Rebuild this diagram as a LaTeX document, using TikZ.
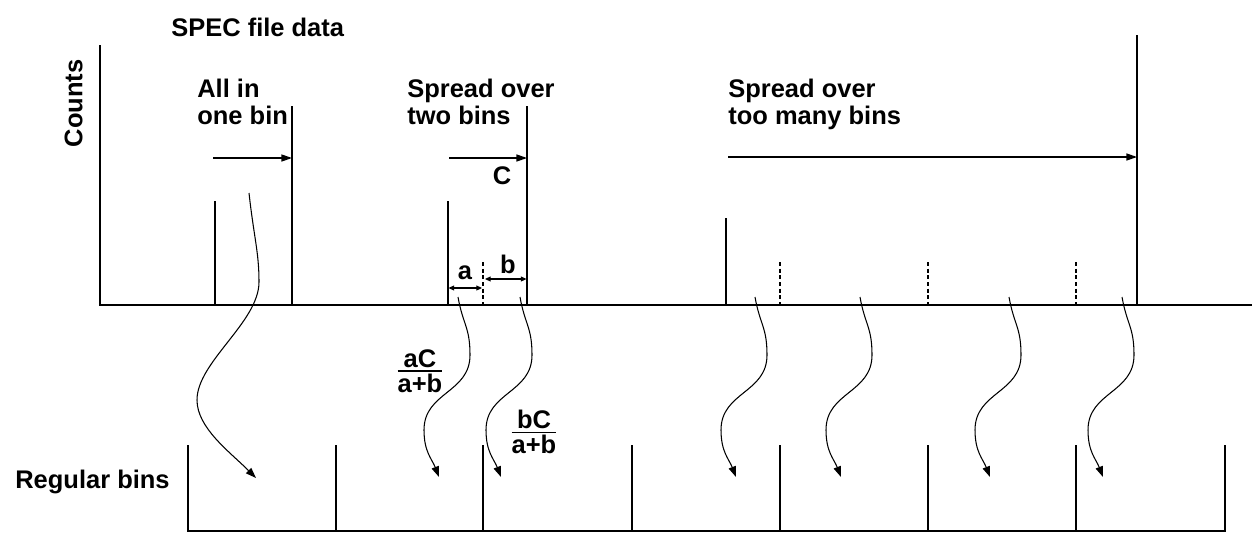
\documentclass[tikz,border=0pt]{standalone}
\usepackage{amsmath}
\usepackage{fontspec}
\setmainfont{Liberation Sans}
\usetikzlibrary{arrows.meta}

\tikzset{
	bar/.style={line width=0.8pt},
	tick/.style={line width=0.6pt, dash pattern=on 2.2pt off 1.6pt},
	span/.style={line width=0.7pt, -{Triangle[length=6pt,width=4pt]}},
	share/.style={line width=0.6pt, {Triangle[length=3.2pt,width=2.8pt]}-{Triangle[length=3.2pt,width=2.8pt]}},
	move/.style={line width=0.6pt, -{Triangle[length=6pt,width=4.2pt]}},
	lbl/.style={font=\bfseries\fontsize{14.5}{15}\selectfont, inner sep=0pt}
}
\newcommand{\binfrac}[2]{$\genfrac{}{}{1pt}{}{\hbox{#1}}{\hbox{#2}}$}

\begin{document}
\begin{tikzpicture}[x=0.02cm, y=-0.02cm]
	\useasboundingbox (0,0) rectangle (1260,551);
	% 坐标轴
	\coordinate (top) at (100,45);
	\coordinate (o) at (100,305);
	\coordinate (xend) at (1252,305);
	\draw[bar] (top) -- (o) -- (xend);
	\node[lbl, rotate=90] (counts) at (73.5,103.5) {Counts};
	\node[lbl, anchor=base west] (title) at (171,36) {SPEC file data};
	% 一个箱
	\draw[bar] (215,201) -- (215,305);
	\draw[bar] (292,106) -- (292,305);
	\node[lbl, anchor=north west, align=left] (one) at (197,79) {All in\\one bin};
	\coordinate (p1) at (213,158);
	\coordinate (q1) at (292,158);
	\draw[span] (p1) -- (q1);
	% 两个箱
	\draw[bar] (448,201) -- (448,305);
	\draw[bar] (527,106) -- (527,305);
	\draw[tick] (483,262) -- (483,305);
	\node[lbl, anchor=north west, align=left] (two) at (407,79) {Spread over\\two bins};
	\coordinate (p2) at (449,158);
	\coordinate (q2) at (527,158);
	\draw[span] (p2) -- (q2);
	\node[lbl] (C) at (502,176) {C};
	\coordinate (al) at (448.5,288);
	\coordinate (ar) at (482,288);
	\draw[share] (al) -- (ar);
	\node[lbl] (a) at (465,273) {a};
	\coordinate (bl) at (485,279);
	\coordinate (br) at (526.5,279);
	\draw[share] (bl) -- (br);
	\node[lbl] (b) at (508,264) {b};
	\node[lbl] (fa) at (420,371) {\binfrac{aC}{a+b}};
	\node[lbl] (fb) at (534,432) {\binfrac{bC}{a+b}};
	% 太多箱
	\draw[bar] (726,218) -- (726,305);
	\draw[bar] (1137,35) -- (1137,305);
	\foreach \tx in {780,928,1076}
		\draw[tick] (\tx,262) -- (\tx,305);
	\node[lbl, anchor=north west, align=left] (many) at (728,79) {Spread over\\too many bins};
	\coordinate (p3) at (728,157);
	\coordinate (q3) at (1137,157);
	\draw[span] (p3) -- (q3);
	% 规则箱
	\node[lbl, anchor=base west] (reg) at (15,488) {Regular bins};
	\draw[bar] (188,445) -- (188,531) -- (1225,531) -- (1225,445);
	\foreach \bx in {336,483,632,780,928,1076}
		\draw[bar] (\bx,445) -- (\bx,531);
	% 重新分配
	\coordinate (s0) at (249,193);
	\coordinate (e0) at (256,478);
	\draw[move] (s0) .. controls +(5,45) and +(0,-30) .. (259,282)
		.. controls +(0,40) and +(0,-38) .. (197,400)
		.. controls +(0,28) and +(-26,-26) .. (e0);
	\foreach \sx [count=\i] in {458,520,755,860,1009,1122} {
		\coordinate (s\i) at (\sx,297);
		\coordinate (e\i) at (\sx-19,477);
		\draw[move] (s\i) .. controls +(5,28) and +(0,-28) .. (\sx+12,355)
			.. controls +(0,38) and +(0,-38) .. (\sx-34,430)
			.. controls +(0,22) and +(-7,-18) .. (e\i);
	}
\end{tikzpicture}
\end{document}
